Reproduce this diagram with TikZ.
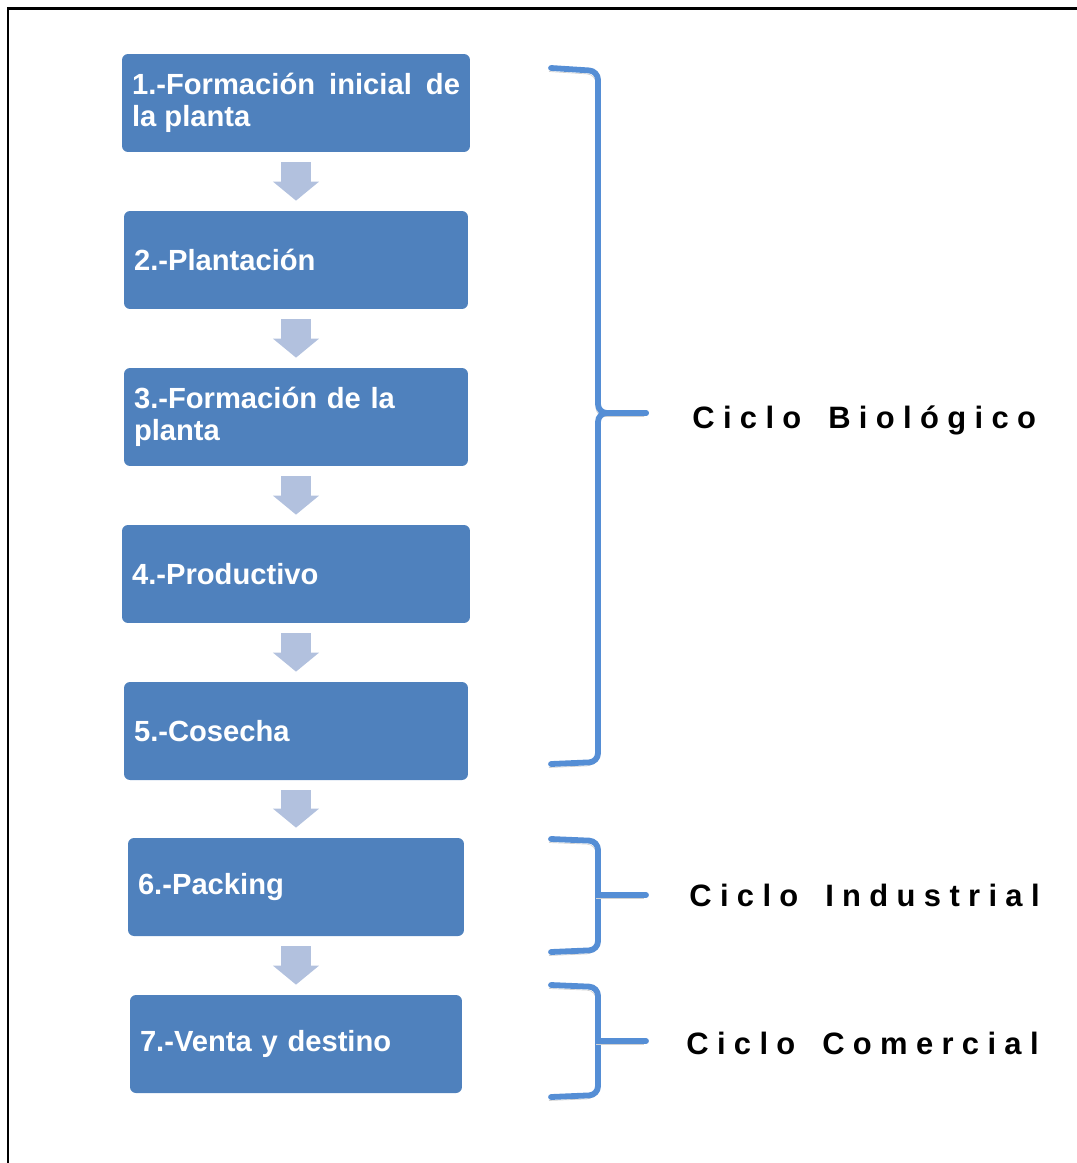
\documentclass[tikz,border=0pt]{standalone}
\usepackage{fontspec}
\usepackage{tikz}
\setmainfont{Liberation Sans}
\newfontfamily\ciclofont[LetterSpace=27]{Liberation Sans}
\usetikzlibrary{arrows.meta, calc, positioning}
\definecolor{boxblue}{RGB}{79,129,189}
\definecolor{arrowblue}{RGB}{178,193,222}
\definecolor{bracketblue}{RGB}{85,142,213}

\begin{document}
\begin{tikzpicture}[x=0.02cm, y=-0.02cm,
  etapa/.style={fill=boxblue, rounded corners=3.4pt, minimum height=1.96cm,
    inner xsep=0.2cm, text=white, align=left,
    font=\fontsize{16.6}{18.2}\selectfont\bfseries},
  flecha/.style={draw=arrowblue, line width=0.6cm, shorten <=0.2cm, shorten >=0.2cm,
    -{Triangle[width=0.9cm, length=0.38cm, fill=arrowblue]}},
  llave/.style={draw=bracketblue, line width=3.3pt, rounded corners=5pt, line cap=round,
    preaction={draw=black!18, transform canvas={xshift=-0.04cm, yshift=-0.07cm}}},
  ciclo/.style={anchor=base west, inner sep=0pt,
    font=\ciclofont\fontsize{17.6}{20}\selectfont\bfseries}]
\useasboundingbox (0,0) rectangle (1077,1163);
% Frame
\draw[line width=0.06cm] (8,1163) -- (8,8) -- (1077,8);

% Stages
\node[etapa, text width=6.56cm, align=justify] (b1) at (296,103) {1.-Formación inicial de la planta};
\node[etapa, text width=6.48cm] (b2) at (296,260) {2.-Plantación};
\node[etapa, text width=6.48cm] (b3) at (296,417) {3.-Formación de la planta};
\node[etapa, text width=6.56cm] (b4) at (296,574) {4.-Productivo};
\node[etapa, text width=6.48cm] (b5) at (296,731) {5.-Cosecha};
\node[etapa, text width=6.32cm] (b6) at (296,887) {6.-Packing};
\node[etapa, text width=6.24cm] (b7) at (296,1044) {7.-Venta y destino};

% Arrows
\draw[flecha] (b1.south) -- (b2.north);
\draw[flecha] (b2.south) -- (b3.north);
\draw[flecha] (b3.south) -- (b4.north);
\draw[flecha] (b4.south) -- (b5.north);
\draw[flecha] (b5.south) -- (b6.north);
\draw[flecha] (b6.south) -- (b7.north);

% Cycles
\node[ciclo] (bio) at (692,428) {Ciclo\hspace{0.2cm} Biológico};
\node[ciclo] (ind) at (689,906) {Ciclo\hspace{0.2cm} Industrial};
\node[ciclo] (com) at (686,1054) {Ciclo\hspace{0.2cm} Comercial};
\coordinate (tbio) at (646,413);
\coordinate (tind) at (646,895);
\coordinate (tcom) at (646,1041);

% Brackets
\draw[llave] (551,68) -- (598,71) -- (598,413) -- (tbio);
\draw[llave] (tbio) -- (598,413) -- (598,762) -- (551,764);
\draw[llave] (551,839) -- (598,841) -- (598,950) -- (551,952);
\draw[llave] (598,895) -- (tind);
\draw[llave] (551,985) -- (598,987) -- (598,1095) -- (551,1097);
\draw[llave] (598,1041) -- (tcom);
\end{tikzpicture}
\end{document}
